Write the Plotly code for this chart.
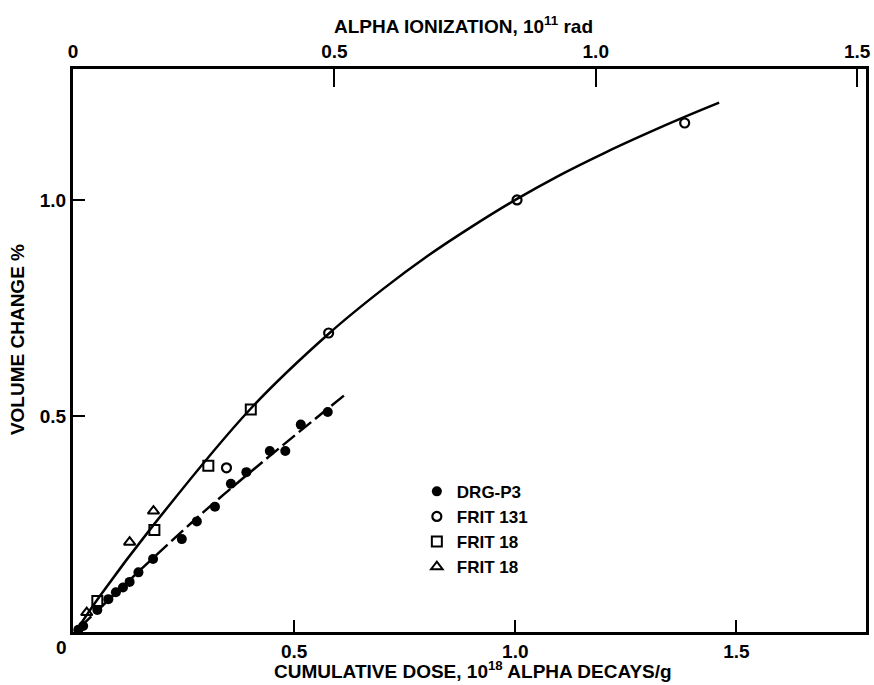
import plotly.graph_objects as go

# ---- data ----
drg_x = [0.012, 0.023, 0.055, 0.080, 0.097, 0.113, 0.128, 0.148, 0.181, 0.246, 0.280, 0.321,
         0.357, 0.392, 0.445, 0.480, 0.515, 0.576]
drg_y = [0.005, 0.014, 0.051, 0.076, 0.092, 0.103, 0.116, 0.138, 0.169, 0.215, 0.256, 0.290,
         0.343, 0.370, 0.419, 0.419, 0.480, 0.509]

frit131_x = [0.347, 0.578, 1.004, 1.383]
frit131_y = [0.380, 0.692, 1.000, 1.178]

frit18s_x = [0.055, 0.184, 0.306, 0.402]
frit18s_y = [0.072, 0.236, 0.385, 0.515]

frit18t_x = [0.031, 0.128, 0.182]
frit18t_y = [0.045, 0.208, 0.280]

# fitted curves as drawn in the figure
upper_x = [0.012, 0.060, 0.180, 0.400, 0.580, 0.700, 0.800, 0.900, 1.000, 1.100, 1.200, 1.300, 1.383, 1.461]
upper_y = [0.010, 0.082, 0.245, 0.515, 0.692, 0.793, 0.869, 0.937, 1.000, 1.057, 1.108, 1.155, 1.192, 1.225]

lower_x = [0.015, 0.300, 0.621]
lower_y = [0.010, 0.282, 0.554]

x_ticks = [0.5, 1.0, 1.5]
x_ticktext = ["0.5", "1.0", "1.5"]
y_ticks = [0.5, 1.0]
y_ticktext = ["0.5", "1.0"]
top_ticks = [0, 0.5, 1.0, 1.5]
top_ticktext = ["0", "0.5", "1.0", "1.5"]

FONT = "Liberation Sans, Arial, sans-serif"
BOLD = dict(family=FONT, size=19, color="black", weight=700)

fig = go.Figure()

fig.add_trace(go.Scatter(x=upper_x, y=upper_y, mode="lines", line=dict(color="black", width=2.5, shape="spline"),
                         showlegend=False, hoverinfo="skip"))
fig.add_trace(go.Scatter(x=lower_x, y=lower_y, mode="lines",
                         line=dict(color="black", width=2.5, shape="spline", dash="16px,5px"),
                         showlegend=False, hoverinfo="skip"))

fig.add_trace(go.Scatter(x=drg_x, y=drg_y, mode="markers", name="DRG-P3",
                         marker=dict(symbol="circle", size=10, color="black")))
fig.add_trace(go.Scatter(x=frit131_x, y=frit131_y, mode="markers", name="FRIT 131",
                         marker=dict(symbol="circle-open", size=9, color="black", line=dict(width=2.2))))
fig.add_trace(go.Scatter(x=frit18s_x, y=frit18s_y, mode="markers", name="FRIT 18",
                         marker=dict(symbol="square-open", size=10, color="black", line=dict(width=2))))
fig.add_trace(go.Scatter(x=frit18t_x, y=frit18t_y, mode="markers", name="FRIT 18",
                         marker=dict(symbol="triangle-up-open", size=10, color="black", line=dict(width=2))))

# dummy trace for the top axis
fig.add_trace(go.Scatter(x=[0], y=[0], xaxis="x2", mode="markers", marker=dict(opacity=0),
                         showlegend=False, hoverinfo="skip"))

fig.update_layout(
    width=874, height=685,
    margin=dict(l=73, r=3, t=69, b=53),
    paper_bgcolor="white", plot_bgcolor="white",
    font=BOLD,
    showlegend=True,
    legend=dict(x=0.4336, y=0.281, xanchor="left", yanchor="top",
                font=dict(family=FONT, size=17, weight=700), bgcolor="rgba(0,0,0,0)", tracegroupgap=0),
    xaxis=dict(range=[0, 1.793], tickvals=x_ticks, ticktext=x_ticktext, ticks="inside", ticklen=12,
               tickwidth=2, tickcolor="black", showline=True, linecolor="black", linewidth=3,
               mirror=False, showgrid=False, zeroline=False, tickfont=BOLD),
    xaxis2=dict(range=[0, 1.517], overlaying="x", side="top", tickvals=top_ticks, ticktext=top_ticktext,
                ticks="inside", ticklen=18, tickwidth=2, tickcolor="black", showline=True,
                linecolor="black", linewidth=3, showgrid=False, zeroline=False, tickfont=BOLD),
    yaxis=dict(range=[0, 1.303], tickvals=y_ticks, ticktext=y_ticktext, ticks="inside", ticklen=12,
               tickwidth=2, tickcolor="black", showline=True, linecolor="black", linewidth=3,
               mirror=True, showgrid=False, zeroline=False, tickfont=BOLD),
    annotations=[
        dict(text="ALPHA IONIZATION, 10<sup>11</sup> rad", xref="paper", yref="paper", x=0.4925, y=1.078,
             showarrow=False, xanchor="center", yanchor="middle", font=BOLD),
        dict(text="CUMULATIVE DOSE, 10<sup>18</sup> ALPHA DECAYS/g", xref="paper", yref="paper",
             x=0.504, y=-0.0925, showarrow=False, xanchor="center", yanchor="bottom", font=BOLD),
        dict(text="VOLUME CHANGE %", xref="paper", yref="paper", x=-0.069, y=0.519, textangle=-90,
             showarrow=False, xanchor="center", yanchor="middle", font=BOLD),
        dict(text="0", xref="paper", yref="paper", x=-0.015, y=-0.027, showarrow=False,
             xanchor="center", yanchor="middle", font=BOLD),
    ],
)

fig.write_html("out.html")
